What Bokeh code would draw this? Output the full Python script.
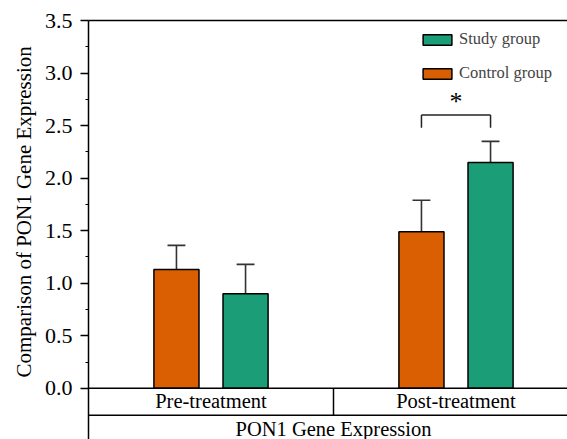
from bokeh.plotting import figure
from bokeh.models import (ColumnDataSource, FixedTicker, LinearAxis, Legend, LegendItem,
                          Range1d, Title, CustomJSTickFormatter)
from bokeh.core.properties import value
from bokeh.embed import file_html
from bokeh.resources import INLINE

# ---- data ----
groups = ["Pre-treatment", "Post-treatment"]
series = ["Control group", "Study group"]
control_vals = [1.13, 1.49]
control_err = [0.23, 0.30]
study_vals = [0.90, 2.15]
study_err = [0.28, 0.20]
colors = ["#D95F02", "#1B9E77"]
y_ticks = [0.0, 0.5, 1.0, 1.5, 2.0, 2.5, 3.0, 3.5]
y_minor = [0.25, 0.75, 1.25, 1.75, 2.25, 2.75, 3.25]
y_label = "Comparison of PON1 Gene Expression"
x_title = "PON1 Gene Expression"
sig_bracket_y = 2.60
sig_bracket_drop = 0.12
sig_mark = "*"

FONT = "Liberation Serif"
bar_w = 0.184
offset = 0.141
cap_w = 0.073
PX_X = 245.0     # pixels per x unit
PX_Y = 105.1     # pixels per y unit
FRAME_W = 567 - 88
FRAME_H = 439 - 20

p = figure(width=567, height=439, output_backend="svg", toolbar_location=None,
           x_range=Range1d(0.5, 0.5 + FRAME_W / PX_X), y_range=Range1d(3.5 - FRAME_H / PX_Y, 3.5),
           min_border_left=88, min_border_right=0, min_border_top=20, min_border_bottom=0,
           x_axis_location=None)
p.outline_line_color = None
p.xgrid.visible = False
p.ygrid.visible = False
p.background_fill_color = "white"
p.border_fill_color = "white"

ya = p.yaxis[0]
ya.ticker = FixedTicker(ticks=y_ticks, minor_ticks=y_minor)
ya.formatter = CustomJSTickFormatter(code="return tick.toFixed(1)")
ya.major_label_text_font = FONT
ya.major_label_text_font_size = "22px"
ya.major_label_text_color = "black"
ya.axis_line_width = 1.5
ya.axis_line_color = "black"
ya.major_tick_line_width = 1.5
ya.major_tick_out = 8
ya.major_tick_in = 0
ya.minor_tick_out = 3
ya.minor_tick_in = 0
ya.minor_tick_line_width = 1.2
ya.major_label_standoff = 8

top = LinearAxis(ticker=FixedTicker(ticks=[]), major_label_text_font_size="0px",
                 major_tick_line_color=None, minor_tick_line_color=None,
                 axis_line_width=1.5, axis_line_color="black")
p.add_layout(top, "above")

# y label as a side title (offset from the bottom of the frame)
ytitle = Title(text=y_label, align="left", offset=62, text_font=FONT, text_font_size="21px",
               text_font_style="normal", text_color="black", standoff=12)
p.add_layout(ytitle, "left")

gx = [1, 2]
cx = [g - offset for g in gx]
sx = [g + offset for g in gx]

src_c = ColumnDataSource(dict(x=cx, top=control_vals, err=[v + e for v, e in zip(control_vals, control_err)]))
src_s = ColumnDataSource(dict(x=sx, top=study_vals, err=[v + e for v, e in zip(study_vals, study_err)]))

# error bars (upper only)
for src in (src_c, src_s):
    p.segment(x0="x", y0="top", x1="x", y1="err", source=src, line_color="#333333", line_width=1.6)
    d = src.data
    p.segment(x0=[x - cap_w / 2 for x in d["x"]], y0=d["err"], x1=[x + cap_w / 2 for x in d["x"]],
              y1=d["err"], line_color="#333333", line_width=1.6)

rc = p.vbar(x="x", top="top", bottom=0, width=bar_w, source=src_c, fill_color=colors[0],
            line_color="black", line_width=1.5)
rs = p.vbar(x="x", top="top", bottom=0, width=bar_w, source=src_s, fill_color=colors[1],
            line_color="black", line_width=1.5)

# x axis line and group table
x_end = 0.5 + FRAME_W / PX_X
row_h = 0.257
p.segment(x0=[0.5], y0=[0], x1=[x_end], y1=[0], line_color="black", line_width=1.5)
p.segment(x0=[0.5], y0=[-row_h], x1=[x_end], y1=[-row_h], line_color="black", line_width=1.5)
p.segment(x0=[1.5], y0=[0], x1=[1.5], y1=[-row_h], line_color="black", line_width=1.5)
p.text(x=gx, y=[-row_h / 2 + 0.005] * 2, text=groups, text_font=value(FONT), text_font_size="20.5px",
       text_align="center", text_baseline="middle", text_color="black")
p.text(x=[1.5], y=[-row_h - 0.13], text=[x_title], text_font=value(FONT), text_font_size="20.5px",
       text_align="center", text_baseline="middle", text_color="black")

# significance bracket
bx0, bx1 = cx[1], sx[1]
p.segment(x0=[bx0, bx0, bx1], y0=[sig_bracket_y] * 3,
          x1=[bx1, bx0, bx1], y1=[sig_bracket_y, sig_bracket_y - sig_bracket_drop, sig_bracket_y - sig_bracket_drop],
          line_color="#222222", line_width=1.5)
p.text(x=[(bx0 + bx1) / 2], y=[sig_bracket_y + 0.13], text=[sig_mark], text_font=value(FONT),
       text_font_size="26px", text_align="center", text_baseline="middle", text_color="black")

legend = Legend(items=[LegendItem(label=series[1], renderers=[rs]),
                       LegendItem(label=series[0], renderers=[rc])],
                location=(331, 356), glyph_width=36, glyph_height=13, label_standoff=4,
                label_text_font=FONT, label_text_font_size="16.5px", label_height=17, spacing=14,
                padding=0, margin=0, border_line_color=None, background_fill_alpha=0)
p.add_layout(legend, "center")

open("out.html", "w").write(file_html(p, INLINE))
